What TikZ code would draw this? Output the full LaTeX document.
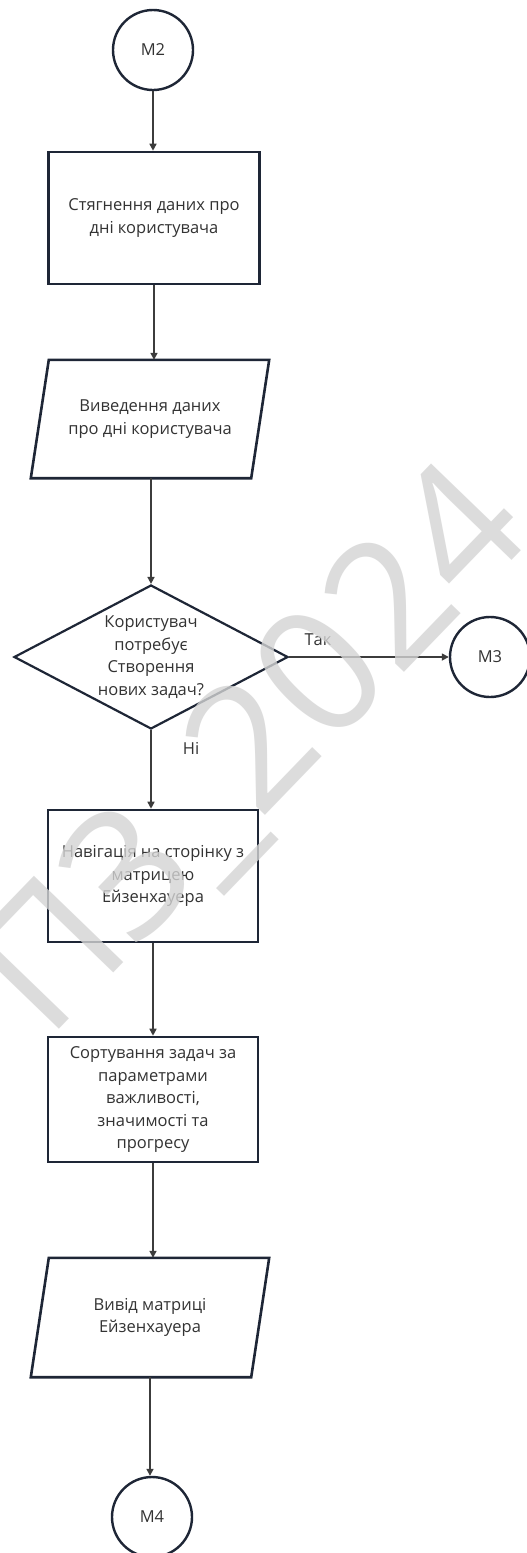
\documentclass[tikz,border=0pt]{standalone}
\usepackage{fontspec}
\setmainfont{Open Sans}
\usetikzlibrary{shapes.geometric,arrows.meta}
\definecolor{edge}{HTML}{1E2636}
\definecolor{ink}{HTML}{333333}
\definecolor{conn}{HTML}{3C3C3C}
\tikzset{
  base/.style={font=\fontsize{16.5}{22.5}\selectfont, text=ink, align=center},
  procbox/.style={base, draw=edge, line width=2.6pt, rectangle, inner sep=0pt},
  conncircle/.style={base, draw=edge, line width=2.4pt, circle, minimum size=80pt, inner sep=0pt},
  ioshape/.style={base, rectangle, inner sep=0pt},
  ioline/.style={draw=edge, line width=2.6pt, line join=miter},
  decision/.style={draw=edge, line width=2.2pt, diamond, inner sep=0pt},
  arr/.style={draw=conn, line width=1.6pt, -{Triangle[length=7pt,width=7pt]}},
  lbl/.style={base},
  watermark/.style={font=\fontsize{174}{174}\selectfont, text=black!17, text opacity=0.8, rotate=46}
}
\begin{document}
\begin{tikzpicture}[x=1pt,y=-1pt]
\useasboundingbox (0,0) rectangle (527,1553);
\fill[white] (0,0) rectangle (527,1553);

\node[conncircle] (m2) at (153,50) {M2};
\node[procbox, minimum width=211pt, minimum height=132pt] (b1) at (154,218) {Стягнення даних про\\дні користувача};
\node[ioshape, minimum width=220pt, minimum height=118pt] (p1) at (150,419) {Виведення даних\\про дні користувача};
\draw[ioline] ([xshift=9pt]p1.north west) -- ([xshift=9pt]p1.north east) -- ([xshift=-9pt]p1.south east) -- ([xshift=-9pt]p1.south west) -- cycle;
\node[decision, minimum width=274pt, minimum height=144pt] (d) at (151,657) {};
\node[base] (dt) at (d.center) {Користувач\\потребує\\Створення\\нових задач?};
\node[conncircle] (m3) at (490,657) {M3};
\node[procbox, minimum width=210pt, minimum height=132pt] (b2) at (153,876) {Навігація на сторінку з\\матрицею\\Ейзенхауера};
\node[procbox, minimum width=210pt, minimum height=125pt] (b3) at (153,1099.5) {Сортування задач за\\параметрами\\важливості,\\значимості та\\прогресу};
\node[ioshape, minimum width=220pt, minimum height=119pt] (p2) at (150,1317.5) {Вивід матриці\\Ейзенхауера};
\draw[ioline] ([xshift=9pt]p2.north west) -- ([xshift=9pt]p2.north east) -- ([xshift=-9pt]p2.south east) -- ([xshift=-9pt]p2.south west) -- cycle;
\node[conncircle] (m4) at (152,1517) {M4};

\node[lbl] (yes) at (318,640) {Так};
\node[lbl] (no) at (191,748) {Ні};

\draw[arr] (m2.south) -- (m2.south |- b1.north);
\draw[arr] (b1.south) -- (b1.south |- p1.north);
\draw[arr] (d.north |- p1.south) -- (d.north);
\draw[arr] (d.east) -- (m3.west);
\draw[arr] (d.south) -- (d.south |- b2.north);
\draw[arr] (b2.south) -- (b2.south |- b3.north);
\draw[arr] (b3.south) -- (b3.south |- p2.north);
\draw[arr] (p2.south) -- (p2.south |- m4.north);

\node[watermark] (wm) at (256,754) {ПЗ\_2024};
\end{tikzpicture}
\end{document}
